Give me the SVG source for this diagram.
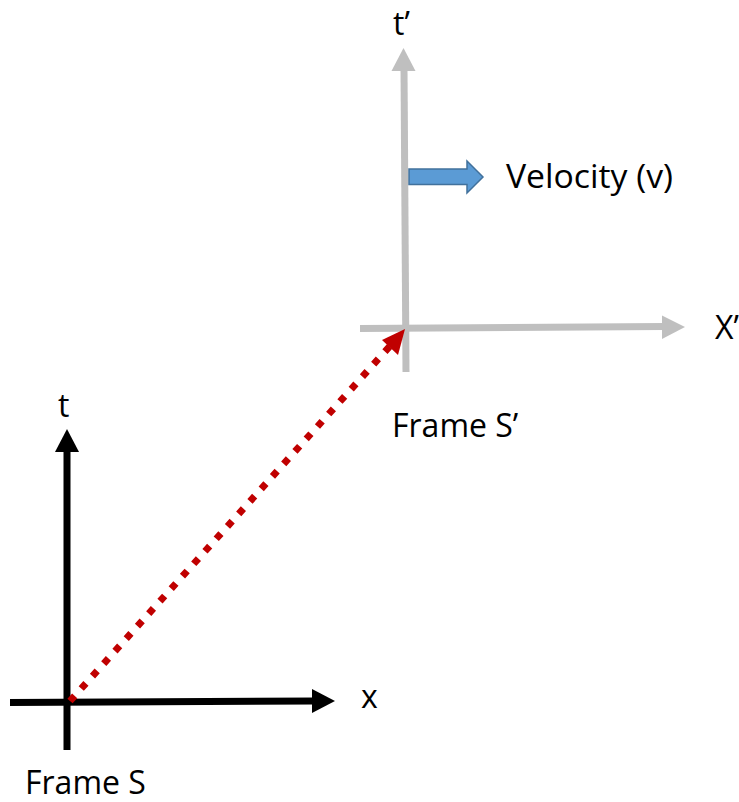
<svg xmlns="http://www.w3.org/2000/svg" width="739" height="802" viewBox="0 0 739 802">
<style>
  .lbl { font-family: "Open Sans", "Liberation Sans", sans-serif; font-size: 32px; fill: #000; }
  .gray { stroke: #BFBFBF; stroke-width: 7; fill: none; }
  .grayhead { fill: #BFBFBF; }
  .blk { stroke: #000; stroke-width: 7; fill: none; }
</style>
<rect width="739" height="802" fill="#fff"/>
<g id="frameS">
  <line class="blk" x1="67" y1="750" x2="67" y2="448"/>
  <polygon points="67,429 55,452 79,452" fill="#000"/>
  <line class="blk" x1="10" y1="702.5" x2="315" y2="701"/>
  <polygon points="335,701 312,689 312,713" fill="#000"/>
  <text class="lbl" x="58" y="417">t</text>
  <text class="lbl" x="361" y="708">x</text>
  <text class="lbl" x="25" y="794">Frame S</text>
</g>
<g id="frameSprime">
  <line class="gray" x1="406" y1="372" x2="404" y2="68"/>
  <polygon class="grayhead" points="403.5,48 391.5,71 415.5,71"/>
  <line class="gray" x1="360" y1="328.5" x2="665" y2="326.5"/>
  <polygon class="grayhead" points="685,327 662,315.5 662,339"/>
  <text class="lbl" x="393" y="35">t’</text>
  <text class="lbl" x="715" y="339">X’</text>
  <text class="lbl" x="392" y="437">Frame S’</text>
</g>
<g id="velocity">
  <polygon points="409,169 467,169 467,161 483,177 467,193 467,184.5 409,184.5" fill="#5B9BD5" stroke="#41719C" stroke-width="1.5"/>
  <text class="lbl" x="506" y="188" textLength="167" lengthAdjust="spacingAndGlyphs">Velocity (v)</text>
</g>
<g id="connectors">
  <line x1="70" y1="701" x2="390" y2="346" stroke="#C00000" stroke-width="7" stroke-dasharray="7 9.8"/>
  <polygon points="405,329 382,340 398,355" fill="#C00000"/>
</g>
</svg>
